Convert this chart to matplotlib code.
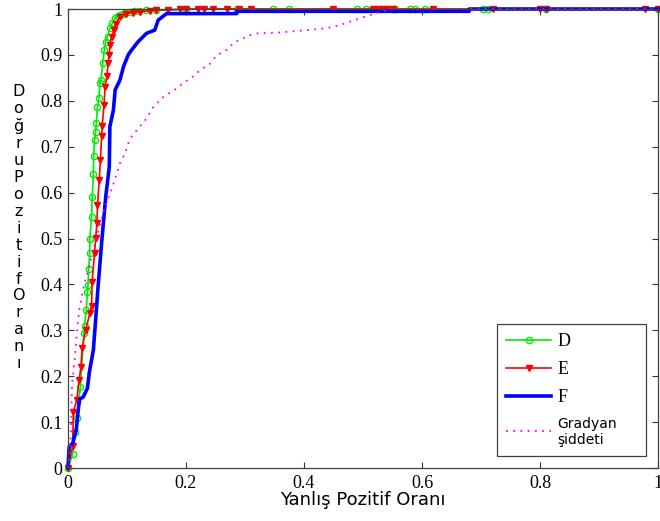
import matplotlib.pyplot as plt
from matplotlib.font_manager import FontProperties

# ROC curves
d_fpr = [0, 0.008, 0.012, 0.015, 0.021, 0.027, 0.028, 0.031, 0.033, 0.034, 0.035, 0.037,
         0.037, 0.040, 0.041, 0.043, 0.0435, 0.045, 0.047, 0.048, 0.050, 0.0525, 0.054,
         0.056, 0.059, 0.0615, 0.064, 0.067, 0.071, 0.075, 0.080, 0.084, 0.088, 0.093,
         0.097, 0.105, 0.112, 0.12, 0.133, 0.15, 0.2, 0.286, 0.348, 0.375, 0.49, 0.505,
         0.55, 0.555, 0.58, 0.588, 0.605, 0.703, 0.712, 0.81, 1.0]
d_tpr = [0, 0.03, 0.078, 0.108, 0.177, 0.295, 0.309, 0.344, 0.384, 0.399, 0.433, 0.468,
         0.499, 0.547, 0.59, 0.64, 0.68, 0.715, 0.733, 0.752, 0.787, 0.806, 0.839,
         0.845, 0.882, 0.911, 0.929, 0.94, 0.958, 0.969, 0.98, 0.984, 0.987, 0.989,
         0.991, 0.994, 0.995, 0.996, 0.997, 0.998, 1.0, 1.0, 1.0, 1.0, 1.0, 1.0,
         1.0, 1.0, 1.0, 1.0, 1.0, 1.0, 1.0, 1.0, 1.0]

e_fpr = [0, 0.008, 0.009, 0.015, 0.019, 0.022, 0.024, 0.030, 0.037, 0.040, 0.041, 0.045,
         0.047, 0.049, 0.050, 0.053, 0.055, 0.057, 0.058, 0.061, 0.063, 0.066, 0.068,
         0.070, 0.071, 0.074, 0.078, 0.081, 0.088, 0.099, 0.11, 0.122, 0.139, 0.15,
         0.17, 0.19, 0.20, 0.22, 0.23, 0.246, 0.27, 0.29, 0.31, 0.449, 0.517, 0.525,
         0.533, 0.54, 0.551, 0.618, 0.72, 0.80, 0.81, 0.978, 1.0]
e_tpr = [0, 0.048, 0.123, 0.148, 0.192, 0.221, 0.261, 0.30, 0.338, 0.353, 0.406, 0.469,
         0.501, 0.534, 0.573, 0.627, 0.671, 0.723, 0.745, 0.79, 0.831, 0.853, 0.882,
         0.90, 0.922, 0.94, 0.954, 0.968, 0.983, 0.99, 0.992, 0.994, 0.996, 0.998,
         0.998, 0.999, 1.0, 1.0, 1.0, 1.0, 1.0, 1.0, 1.0, 1.0, 1.0, 1.0,
         1.0, 1.0, 1.0, 1.0, 1.0, 1.0, 1.0, 1.0, 1.0]

f_fpr = [0, 0.002, 0.008, 0.014, 0.018, 0.020, 0.026, 0.033, 0.036, 0.043, 0.046, 0.051,
         0.057, 0.062, 0.064, 0.070, 0.071, 0.077, 0.080, 0.088, 0.094, 0.102, 0.108,
         0.119, 0.133, 0.147, 0.153, 0.167, 0.286, 0.286, 0.68, 0.68, 1.0]
f_tpr = [0, 0.046, 0.054, 0.083, 0.134, 0.150, 0.155, 0.174, 0.207, 0.257, 0.308, 0.395,
         0.490, 0.562, 0.591, 0.656, 0.744, 0.780, 0.824, 0.845, 0.874, 0.900, 0.911,
         0.929, 0.947, 0.954, 0.976, 0.990, 0.990, 0.995, 0.995, 1.0, 1.0]

g_fpr = [0, 0.003, 0.005, 0.006, 0.007, 0.012, 0.015, 0.019, 0.026, 0.037, 0.049, 0.060,
         0.072, 0.083, 0.088, 0.097, 0.102, 0.108, 0.119, 0.131, 0.145, 0.162, 0.181,
         0.195, 0.212, 0.224, 0.241, 0.252, 0.269, 0.280, 0.289, 0.308, 0.322, 0.359,
         0.405, 0.438, 0.461, 0.486, 0.512, 0.540, 0.551, 1.0]
g_tpr = [0, 0.017, 0.076, 0.134, 0.185, 0.243, 0.293, 0.344, 0.391, 0.446, 0.504, 0.559,
         0.600, 0.642, 0.664, 0.686, 0.707, 0.722, 0.740, 0.758, 0.787, 0.809, 0.824,
         0.838, 0.853, 0.867, 0.881, 0.899, 0.911, 0.925, 0.932, 0.943, 0.947, 0.949,
         0.954, 0.958, 0.965, 0.976, 0.987, 0.998, 1.0, 1.0]

ticks = [0, 0.2, 0.4, 0.6, 0.8, 1]
tick_labels = ['0', '0.2', '0.4', '0.6', '0.8', '1']
yticks = [0, 0.1, 0.2, 0.3, 0.4, 0.5, 0.6, 0.7, 0.8, 0.9, 1]
ytick_labels = ['0', '0.1', '0.2', '0.3', '0.4', '0.5', '0.6', '0.7', '0.8', '0.9', '1']

serif = FontProperties(family='Liberation Serif', size=13)
sans = FontProperties(family='DejaVu Sans', size=10)

fig = plt.figure(figsize=(6.6, 5.21), dpi=100)
ax = fig.add_axes([0.103, 0.1017, 0.894, 0.881])

ax.plot(d_fpr, d_tpr, color='#00ee00', lw=1.2, marker='o', ms=4.5, mfc='none',
        mew=1.0, label='D', clip_on=False)
ax.plot(e_fpr, e_tpr, color='#ff0000', lw=1.2, marker='v', ms=5, label='E', clip_on=False)
ax.plot(f_fpr, f_tpr, color='#0000ff', lw=2.6, label='F', clip_on=False)
ax.plot(g_fpr, g_tpr, color='#ff00ff', lw=1.3, ls=(0, (1, 3)), label='Gradyan\nşiddeti',
        clip_on=False)

ax.set_xlim(0, 1)
ax.set_ylim(0, 1)
ax.set_xticks(ticks)
ax.set_xticklabels(tick_labels, fontfamily='Liberation Serif', fontsize=13)
ax.set_yticks(yticks)
ax.set_yticklabels(ytick_labels, fontfamily='Liberation Serif', fontsize=13)
ax.tick_params(direction='in', top=True, right=True, length=4, width=0.8,
               colors='#333333', labelcolor='black')
ax.tick_params(axis='x', pad=5)
ax.tick_params(axis='y', pad=4)
for sp in ax.spines.values():
    sp.set_color('#404040')
    sp.set_linewidth(0.9)

ax.set_xlabel('Yanlış Pozitif Oranı', fontfamily='DejaVu Sans', fontsize=13, labelpad=-1)
# vertical label written one letter per line, as in the source figure
ylabel = 'Doğru Pozitif Oranı'.replace(' ', '')
fig.text(0.028, 0.563, '\n'.join(ylabel), ha='center', va='center',
         multialignment='center', fontfamily='DejaVu Sans', fontsize=11.5, linespacing=1.16)

leg = ax.legend(loc='lower left', bbox_to_anchor=(0.727, 0.026, 0.253, 0.279),
                mode='expand', borderaxespad=0, fancybox=False,
                edgecolor='#404040', framealpha=1, handlelength=2.5, handletextpad=0.35,
                borderpad=0.5, labelspacing=0.6, prop=serif)
leg.get_frame().set_linewidth(0.9)
leg.get_texts()[3].set_fontproperties(sans)

fig.savefig('out.png', dpi=100)
